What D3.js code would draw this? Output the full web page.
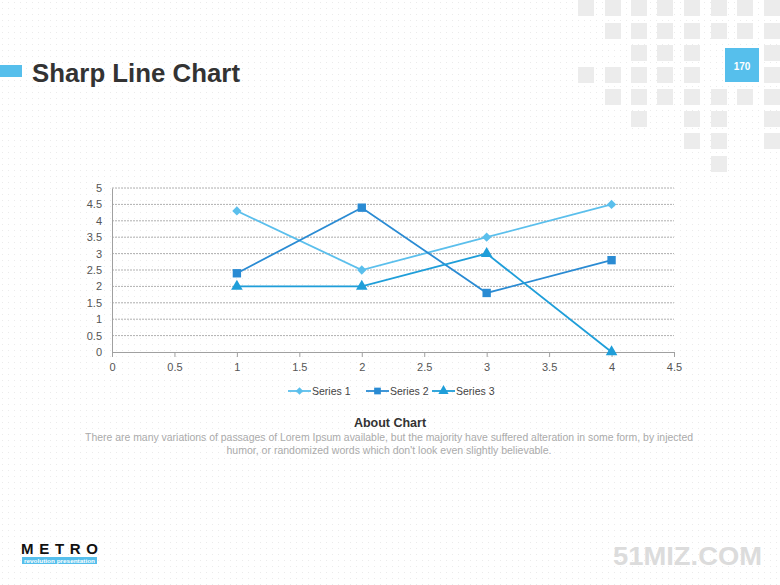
<!DOCTYPE html>
<html><head><meta charset="utf-8">
<script src="https://cdn.jsdelivr.net/npm/d3@7"></script>
<style>html,body{margin:0;padding:0;background:#fff;}svg{display:block;}</style>
</head><body>
<svg id="c" width="780" height="585"></svg>
<script>
const xValues = [1, 2, 3, 4];
const series1 = [4.3, 2.5, 3.5, 4.5];
const series2 = [2.4, 4.4, 1.8, 2.8];
const series3 = [2, 2, 3, 0];
const seriesNames = ["Series 1", "Series 2", "Series 3"];
const xTicks = [0, 0.5, 1, 1.5, 2, 2.5, 3, 3.5, 4, 4.5];
const yTicks = [0, 0.5, 1, 1.5, 2, 2.5, 3, 3.5, 4, 4.5, 5];
const colors = ["#5bbfec", "#2a8bd3", "#1f9ed9"];
const markers = [d3.symbolDiamond2 || d3.symbolDiamond, d3.symbolSquare, d3.symbolTriangle];

const svg = d3.select("#c");
const defs = svg.append("defs");
const pat = defs.append("pattern").attr("id","dots").attr("width",6).attr("height",6).attr("patternUnits","userSpaceOnUse");
pat.append("rect").attr("width",6).attr("height",6).attr("fill","#fff");
pat.append("rect").attr("x",2).attr("y",2).attr("width",1).attr("height",1).attr("fill","#ebebeb");
svg.append("rect").attr("width",780).attr("height",585).attr("fill","url(#dots)");

// decorative squares
const sqCols = [578, 605, 631, 657, 684, 711, 737, 764];
const sqRows = [0, 23, 45, 67, 89, 111, 133, 156];
const sqMap = [
  [0,1,2,3,4,5,6,7],
  [1,2,3,4,5,6,7],
  [2,3,4,7],
  [0,1,2,3,4,7],
  [1,2,3,4,5,6,7],
  [2,4,5,7],
  [4,5,7],
  [5]
];
const deco = svg.append("g");
sqMap.forEach((cols, r) => cols.forEach(c => {
  deco.append("rect").attr("x", sqCols[c]).attr("y", sqRows[r]).attr("width",16).attr("height",16).attr("fill","#ececec");
}));
svg.append("rect").attr("x",725).attr("y",48).attr("width",34).attr("height",34).attr("fill","#56bfec");
svg.append("text").attr("x",742).attr("y",69.5).attr("text-anchor","middle").attr("fill","#fff")
  .attr("font-family","Liberation Sans, Arial, sans-serif").attr("font-weight","bold").attr("font-size",10).text("170");

// title
svg.append("rect").attr("x",0).attr("y",65).attr("width",22).attr("height",12).attr("fill","#56bfec");
svg.append("text").attr("x",32).attr("y",82).attr("fill","#333")
  .attr("font-family","Liberation Sans, Arial, sans-serif").attr("font-weight","bold").attr("font-size",25)
  .attr("textLength",208).attr("lengthAdjust","spacingAndGlyphs").text("Sharp Line Chart");

// chart
const x = d3.scaleLinear().domain([0,4.5]).range([112,674]);
const y = d3.scaleLinear().domain([0,5]).range([352,188]);
const font = "Liberation Sans, Arial, sans-serif";

const grid = svg.append("g");
yTicks.forEach(t => {
  if (t === 0) return;
  grid.append("line").attr("x1",112).attr("x2",674).attr("y1",y(t)).attr("y2",y(t))
    .attr("stroke","#b0b0b0").attr("stroke-width",1).attr("stroke-dasharray","2,1");
});

const yAxis = svg.append("g").attr("transform","translate(112,0)")
  .call(d3.axisLeft(y).tickValues(yTicks).tickSize(0).tickPadding(10).tickFormat(d3.format("")));
yAxis.select(".domain").attr("stroke","#a0a0a0");
yAxis.selectAll("text").attr("font-family",font).attr("font-size",11).attr("fill","#555");

const xAxis = svg.append("g").attr("transform","translate(0,352)")
  .call(d3.axisBottom(x).tickValues(xTicks).tickSize(5).tickSizeOuter(0).tickPadding(6).tickFormat(d3.format("")));
xAxis.select(".domain").attr("stroke","#a0a0a0");
xAxis.selectAll(".tick line").attr("stroke","#a0a0a0");
xAxis.selectAll("text").attr("font-family",font).attr("font-size",11).attr("fill","#555");

const allSeries = [series1, series2, series3];
const line = d3.line().x((d,i)=>x(xValues[i])).y(d=>y(d));
allSeries.forEach((s, k) => {
  svg.append("path").datum(s).attr("d", line).attr("fill","none").attr("stroke",colors[k]).attr("stroke-width",1.8);
});
const msize = [55, 70, 58];
allSeries.forEach((s, k) => {
  svg.append("g").selectAll("path").data(s).join("path")
    .attr("transform",(d,i)=>`translate(${x(xValues[i])},${y(d)})`)
    .attr("d", d3.symbol().type(markers[k]).size(msize[k]))
    .attr("fill", colors[k]);
});

// legend
const legX = [288, 366, 432];
const leg = svg.append("g");
seriesNames.forEach((n, k) => {
  const g = leg.append("g").attr("transform",`translate(${legX[k]},391)`);
  g.append("line").attr("x1",0).attr("x2",23).attr("stroke",colors[k]).attr("stroke-width",1.8);
  g.append("path").attr("transform","translate(11.5,0)").attr("d", d3.symbol().type(markers[k]).size(k===0?35:45)).attr("fill",colors[k]);
  g.append("text").attr("x",24).attr("y",4).attr("font-family",font).attr("font-size",10.5).attr("fill","#444").text(n);
});

// about
svg.append("text").attr("x",390).attr("y",427).attr("text-anchor","middle").attr("fill","#333")
  .attr("font-family",font).attr("font-weight","bold").attr("font-size",12.5).text("About Chart");
svg.append("text").attr("x",389).attr("y",441).attr("text-anchor","middle").attr("fill","#aaa")
  .attr("font-family",font).attr("font-size",10.5).attr("textLength",608).attr("lengthAdjust","spacingAndGlyphs")
  .text("There are many variations of passages of Lorem Ipsum available, but the majority have suffered  alteration in some form, by injected");
svg.append("text").attr("x",389).attr("y",454).attr("text-anchor","middle").attr("fill","#aaa")
  .attr("font-family",font).attr("font-size",10.5).attr("textLength",325).attr("lengthAdjust","spacingAndGlyphs")
  .text("humor, or randomized words which don't look even slightly believable.");

// logo
svg.append("text").attr("x",21).attr("y",554).attr("fill","#111").attr("font-family",font).attr("font-weight","bold")
  .attr("font-size",15).attr("textLength",77).attr("lengthAdjust","spacing").text("METRO");
svg.append("rect").attr("x",22).attr("y",557).attr("width",75).attr("height",7).attr("fill","#56bfec");
svg.append("text").attr("x",24).attr("y",562.5).attr("fill","#fff").attr("font-family",font).attr("font-weight","bold")
  .attr("font-size",5.5).attr("textLength",71).attr("lengthAdjust","spacingAndGlyphs").text("revolution presentation");

// watermark
svg.append("text").attr("x",613).attr("y",565).attr("fill","#dcdcdc").attr("font-family",font).attr("font-weight","bold")
  .attr("font-size",25).attr("textLength",149).attr("lengthAdjust","spacingAndGlyphs").text("51MIZ.COM");
</script>
</body></html>
